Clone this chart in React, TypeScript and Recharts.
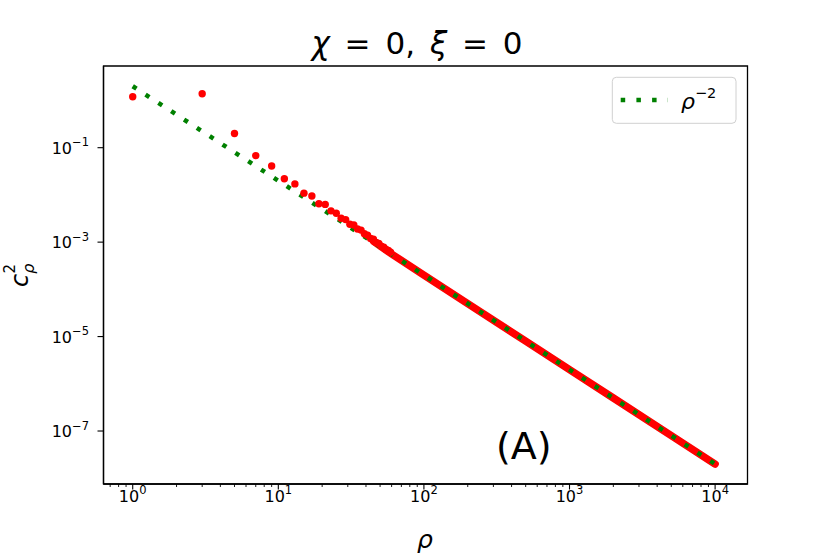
import React from 'react';
import { ComposedChart, Line, Scatter, XAxis, YAxis, ReferenceArea } from 'recharts';

// odd rho values shown as separate red dots
const dotRho = [1, 3, 5, 7, 9, 11, 13, 15, 17, 19, 21, 23, 25, 27, 29, 31, 33, 35, 37, 39, 41, 43, 45, 47, 49, 51, 53, 55, 57, 59];
const dotC2 = [1.2, 1.39, 0.2, 0.068, 0.041, 0.022, 0.0171, 0.0109, 0.0095, 0.0065, 0.0063, 0.0046, 0.0041, 0.0032, 0.003, 0.0024, 0.0023, 0.0019, 0.0018, 0.0015, 0.0014, 0.0012, 0.00115, 0.00098, 0.00094, 0.00082, 0.00078, 0.0007, 0.00067, 0.00061];

// dense part where the dots merge into one red band
const bandRho = [45, 60, 100, 200, 500, 1000, 2000, 5000, 10001];
const bandC2 = [0.00105, 0.00056, 0.0002, 5e-5, 8e-6, 2e-6, 5e-7, 8e-8, 2e-8];

// reference line rho^-2
const fitRho = [1, 10000];
const fitC2 = [2, 2e-8];

const xTicks = [0.7, 0.8, 0.9, 1, 2, 3, 4, 5, 6, 7, 8, 9, 10, 20, 30, 40, 50, 60, 70, 80, 90, 100, 200, 300, 400, 500, 600, 700, 800, 900, 1000, 2000, 3000, 4000, 5000, 6000, 7000, 8000, 9000, 10000];
const yTicks = [1e-1, 1e-3, 1e-5, 1e-7];

const xDomain = [0.63, 16690];
const yDomain = [7.55e-9, 5.37];

const dots = dotRho.map((rho, i) => ({ rho, c2: dotC2[i] }));
const band = bandRho.map((rho, i) => ({ rho, c2: bandC2[i] }));
const fit = fitRho.map((rho, i) => ({ rho, c2: fitC2[i] }));

const FONT = '"DejaVu Sans", sans-serif';
const GREEN = '#008000';

const expOf = (v: number) => Math.round(Math.log10(v));
const isMajor = (v: number) => Math.abs(Math.log10(v) - expOf(v)) < 1e-9;
const supText = (e: number) => (e < 0 ? '\u2212' + Math.abs(e) : String(e));

const XTick = (props: any) => {
  const { x, y, payload } = props;
  const v = payload.value;
  const major = isMajor(v);
  return (
    <g>
      <line x1={x} x2={x} y1={y} y2={y + (major ? 5.5 : 3)} stroke="#000" strokeWidth={major ? 1.1 : 0.9} />
      {major && (
        <text x={x} y={y + 17.7} textAnchor="middle" fontFamily={FONT} fontSize={16} fill="#000">
          10<tspan fontSize={11.5} dy={-7.5}>{supText(expOf(v))}</tspan>
        </text>
      )}
    </g>
  );
};

const YTick = (props: any) => {
  const { x, y, payload } = props;
  const v = payload.value;
  return (
    <g>
      <line x1={x - 6} x2={x} y1={y} y2={y} stroke="#000" strokeWidth={1.1} />
      <text x={x - 14.5} y={y + 6.3} textAnchor="end" fontFamily={FONT} fontSize={16} fill="#000">
        10<tspan fontSize={11.5} dy={-7.5}>{supText(expOf(v))}</tspan>
      </text>
    </g>
  );
};

const RedDot = (props: any) => <circle cx={props.cx} cy={props.cy} r={3.7} fill="#ff0000" />;

export default function App() {
  return (
    <div style={{ position: 'absolute', left: 0, top: 0, width: 830, height: 554, background: '#fff' }}>
      <ComposedChart width={830} height={554} margin={{ top: 66, right: 82.5, bottom: 10, left: 3.5 }}>
        <XAxis
          dataKey="rho"
          type="number"
          scale="log"
          domain={xDomain}
          allowDataOverflow
          ticks={xTicks}
          interval={0}
          tick={<XTick />}
          tickLine={false}
          tickSize={0}
          tickMargin={0}
          axisLine={{ stroke: '#000', strokeWidth: 1.3 }}
          height={60}
        />
        <YAxis
          dataKey="c2"
          type="number"
          scale="log"
          domain={yDomain}
          allowDataOverflow
          ticks={yTicks}
          interval={0}
          tick={<YTick />}
          tickLine={false}
          tickSize={0}
          tickMargin={0}
          axisLine={{ stroke: '#000', strokeWidth: 1.3 }}
          width={100}
        />
        <Line
          data={band}
          dataKey="c2"
          stroke="#ff0000"
          strokeWidth={7.5}
          strokeLinecap="round"
          dot={false}
          activeDot={false}
          isAnimationActive={false}
        />
        <Scatter data={dots} dataKey="c2" fill="#ff0000" shape={<RedDot />} isAnimationActive={false} />
        <Line
          data={fit}
          dataKey="c2"
          stroke={GREEN}
          strokeWidth={4.5}
          strokeDasharray="4.5 10.8"
          dot={false}
          activeDot={false}
          isAnimationActive={false}
        />
        <ReferenceArea
          x1={xDomain[0]}
          x2={xDomain[1]}
          y1={yDomain[0]}
          y2={yDomain[1]}
          fill="none"
          stroke="#000"
          strokeWidth={1.3}
          ifOverflow="visible"
        />
      </ComposedChart>
      <svg width={830} height={554} style={{ position: 'absolute', left: 0, top: 0, pointerEvents: 'none' }}>
        <text x={417} y={54.3} textAnchor="middle" fontFamily={FONT} fontSize={31} wordSpacing={5} fill="#000">
          <tspan fontStyle="italic">χ</tspan> = 0, <tspan fontStyle="italic">ξ</tspan> = 0
        </text>
        <text x={425} y={548} textAnchor="middle" fontFamily={FONT} fontSize={25} fontStyle="italic" fill="#000">
          ρ
        </text>
        <text transform="translate(28, 287) rotate(-90)" x={0} y={0} fontFamily={FONT} fontSize={24} fill="#000">
          <tspan fontStyle="italic">c</tspan>
          <tspan fontSize={16} fontStyle="italic" dy={6}>ρ</tspan>
          <tspan fontSize={15} dx={-9.8} dy={-19}>2</tspan>
        </text>
        <text x={496} y={459} fontFamily={FONT} fontSize={38} fill="#000">
          (A)
        </text>
        <rect x={612.3} y={77.3} width={123.7} height={46} rx={4} fill="#fff" fillOpacity={0.8} stroke="#d0d0d0" strokeWidth={1} />
        <line x1={620.7} x2={668} y1={100} y2={100} stroke={GREEN} strokeWidth={4.5} strokeDasharray="4.5 11.2" />
        <text x={681} y={108.5} fontFamily={FONT} fontSize={22} fill="#000">
          <tspan fontStyle="italic">ρ</tspan>
          <tspan fontSize={14.5} dy={-11}>{'\u22122'}</tspan>
        </text>
      </svg>
    </div>
  );
}
